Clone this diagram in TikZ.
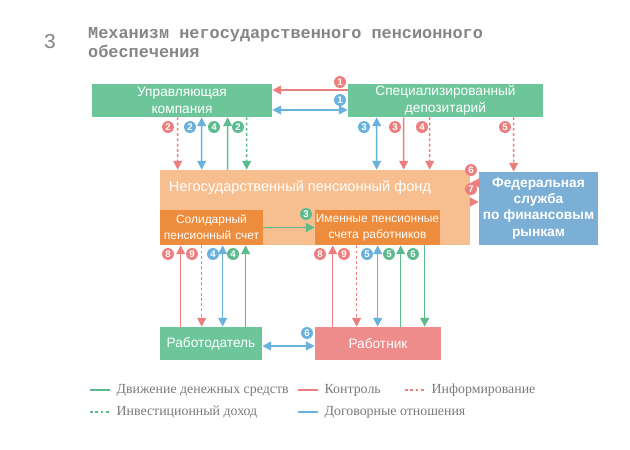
\documentclass[tikz,border=0pt]{standalone}
\usepackage{fontspec}
\setmainfont{Liberation Serif}
\setsansfont{Liberation Sans}
\setmonofont{Liberation Mono}
\usetikzlibrary{arrows.meta, positioning, calc}

\definecolor{boxgreen}{HTML}{6DC59A}
\definecolor{boxred}{HTML}{EE8B8B}
\definecolor{boxblue}{HTML}{7BAFD6}
\definecolor{fundorange}{HTML}{F7BF90}
\definecolor{acctorange}{HTML}{EE8C3D}
\definecolor{arrgreen}{HTML}{5CBB8C}
\definecolor{arrred}{HTML}{EC7E7E}
\definecolor{arrblue}{HTML}{6AB2DE}
\definecolor{titlegray}{HTML}{858585}
\definecolor{legendgray}{HTML}{7A7A7A}

\begin{document}
\begin{tikzpicture}[x=0.02cm, y=-0.02cm,
    box/.style={inner sep=0pt, align=center, text=white, font=\sffamily\fontsize{7.8}{9.5}\selectfont},
    acct/.style={box, fill=acctorange, font=\sffamily\fontsize{6.8}{9}\selectfont, minimum height=0.7cm},
    num/.style={circle, fill=#1, text=white, inner sep=0pt, minimum size=0.24cm, font=\sffamily\bfseries\fontsize{5.5}{5.5}\selectfont},
    money/.style={->, draw=arrgreen, line width=0.9pt},
    invest/.style={->, draw=arrgreen, line width=0.9pt, dash pattern=on 1.6pt off 1.4pt},
    ctrl/.style={->, draw=arrred, line width=0.9pt},
    info/.style={->, draw=arrred, line width=0.9pt, dash pattern=on 1.6pt off 1.4pt},
    deal/.style={<->, draw=arrblue, line width=0.9pt},
    legend/.style={anchor=west, text=legendgray, font=\fontsize{7.9}{9.5}\selectfont},
    >={Triangle[length=5pt,width=5pt]}
]
\useasboundingbox (0,0) rectangle (630,450);

% Title
\node[font=\ttfamily\fontsize{12}{14}\selectfont, text=titlegray] (num3) at (50,42) {3};
\node[anchor=west, align=left, text=titlegray, font=\ttfamily\bfseries\fontsize{9.6}{11}\selectfont] (title) at (82,42.5) {Механизм негосударственного пенсионного\\обеспечения};

% Top row
\node[box, fill=boxgreen, minimum width=3.6cm, minimum height=0.66cm] (uk) at (182,100.5) {Управляющая\\компания};
\node[box, fill=boxgreen, minimum width=3.9cm, minimum height=0.66cm] (dep) at (445.5,100.5) {Специализированный\\депозитарий};

% Fund with accounts
\node[fill=fundorange, inner sep=0pt, minimum width=6.2cm, minimum height=1.5cm] (npf) at (315,207.5) {};
\node[box, font=\sffamily\fontsize{8.3}{10}\selectfont] (npftitle) at (300,188) {Негосударственный пенсионный фонд};
\node[acct, text width=2.06cm] (sol) at (211.5,227.5) {Солидарный\\пенсионный счет};
\node[acct, text width=2.5cm] (named) at (377.5,227.5) {Именные пенсионные\\счета работников};

% Regulator
\node[box, fill=boxblue, font=\sffamily\bfseries\fontsize{7.8}{9.3}\selectfont, minimum width=2.38cm, minimum height=1.46cm] (fed) at (538.5,208.5) {Федеральная\\служба\\по финансовым\\рынкам};

% Bottom row
\node[box, fill=boxgreen, text width=2.04cm, minimum height=0.66cm] (emp) at (211,343.5) {Работодатель};
\node[box, fill=boxred, text width=2.52cm, minimum height=0.66cm] (wrk) at (378,343.5) {Работник};

% Management company <-> depositary
\draw[ctrl] ($(dep.west)+(0,-10.5)$) -- ($(uk.east)+(0,-10.5)$);
\draw[deal] ($(uk.east)+(0,9.5)$) -- ($(dep.west)+(0,9.5)$);
\node[num=arrred] (r1) at (340,82) {1};
\node[num=arrblue] (b1) at (340,100) {1};

% Management company <-> fund
\draw[info] ($(uk.south west)+(86,0)$) -- ($(npf.north west)+(18,0)$);
\draw[deal] ($(uk.south west)+(110,0)$) -- ($(npf.north west)+(42,0)$);
\draw[money] ($(npf.north west)+(68,0)$) -- ($(uk.south west)+(136,0)$);
\draw[invest] ($(uk.south west)+(155,0)$) -- ($(npf.north west)+(87,0)$);
\node[num=arrred] (r2) at (168,127) {2};
\node[num=arrblue] (b2) at (190,127) {2};
\node[num=arrgreen] (g4) at (214,127) {4};
\node[num=arrgreen] (g2) at (238,127) {2};

% Depositary <-> fund, regulator
\draw[deal] ($(dep.south west)+(29,0)$) -- ($(npf.north west)+(217,0)$);
\draw[ctrl] ($(dep.south west)+(56,0)$) -- ($(npf.north west)+(244,0)$);
\draw[info] ($(dep.south west)+(82,0)$) -- ($(npf.north west)+(270,0)$);
\draw[info] ($(dep.south west)+(166,0)$) -- ($(fed.north west)+(35,0)$);
\node[num=arrblue] (b3) at (364,127) {3};
\node[num=arrred] (r3) at (395,127) {3};
\node[num=arrred] (r4) at (422,127) {4};
\node[num=arrred] (r5) at (505,127) {5};

% Regulator <-> fund
\draw[ctrl] ($(fed.west)+(0,-25.5)$) -- ($(npf.east)+(0,-24.5)$);
\draw[info] ($(npf.east)+(0,-5.5)$) -- ($(fed.west)+(0,-6.5)$);
\node[num=arrred] (r6) at (471,170) {6};
\node[num=arrred] (r7) at (471,189) {7};

% Between accounts
\draw[money] (sol.east) -- (named.west);
\node[num=arrgreen] (g3) at (306,214) {3};

% Employer <-> solidary account
\draw[ctrl] ($(emp.north west)+(21,0)$) -- ($(sol.south west)+(21,0)$);
\draw[info] ($(sol.south west)+(42,0)$) -- ($(emp.north west)+(42,0)$);
\draw[deal] ($(sol.south west)+(63,0)$) -- ($(emp.north west)+(63,0)$);
\draw[money] ($(emp.north west)+(86,0)$) -- ($(sol.south west)+(86,0)$);
\node[num=arrred] (r8a) at (168,254) {8};
\node[num=arrred] (r9a) at (192,254) {9};
\node[num=arrblue] (b4) at (213,254) {4};
\node[num=arrgreen] (g4b) at (233,254) {4};

% Worker <-> named accounts
\draw[ctrl] ($(wrk.north west)+(18,0)$) -- ($(named.south west)+(18,0)$);
\draw[info] ($(named.south west)+(42,0)$) -- ($(wrk.north west)+(42,0)$);
\draw[deal] ($(named.south west)+(63,0)$) -- ($(wrk.north west)+(63,0)$);
\draw[money] ($(wrk.north west)+(86,0)$) -- ($(named.south west)+(86,0)$);
\draw[money] ($(named.south west)+(110,0)$) -- ($(wrk.north west)+(110,0)$);
\node[num=arrred] (r8b) at (320,254) {8};
\node[num=arrred] (r9b) at (344,254) {9};
\node[num=arrblue] (b5) at (367,254) {5};
\node[num=arrgreen] (g5) at (389,254) {5};
\node[num=arrgreen] (g6) at (413,254) {6};

% Employer <-> worker
\draw[deal] ($(emp.east)+(0,2.5)$) -- ($(wrk.west)+(0,2.5)$);
\node[num=arrblue] (b6) at (307,333) {6};

% Legend
\draw[money, -] (90,390) -- ++(20,0) node[legend] (lmoney) {Движение денежных средств};
\draw[ctrl, -] (298,390) -- ++(20,0) node[legend] (lctrl) {Контроль};
\draw[info, -] (405,390) -- ++(20,0) node[legend] (linfo) {Информирование};
\draw[invest, -] (90,412) -- ++(20,0) node[legend] (linvest) {Инвестиционный доход};
\draw[deal, -] (298,412) -- ++(20,0) node[legend] (ldeal) {Договорные отношения};

\end{tikzpicture}
\end{document}
